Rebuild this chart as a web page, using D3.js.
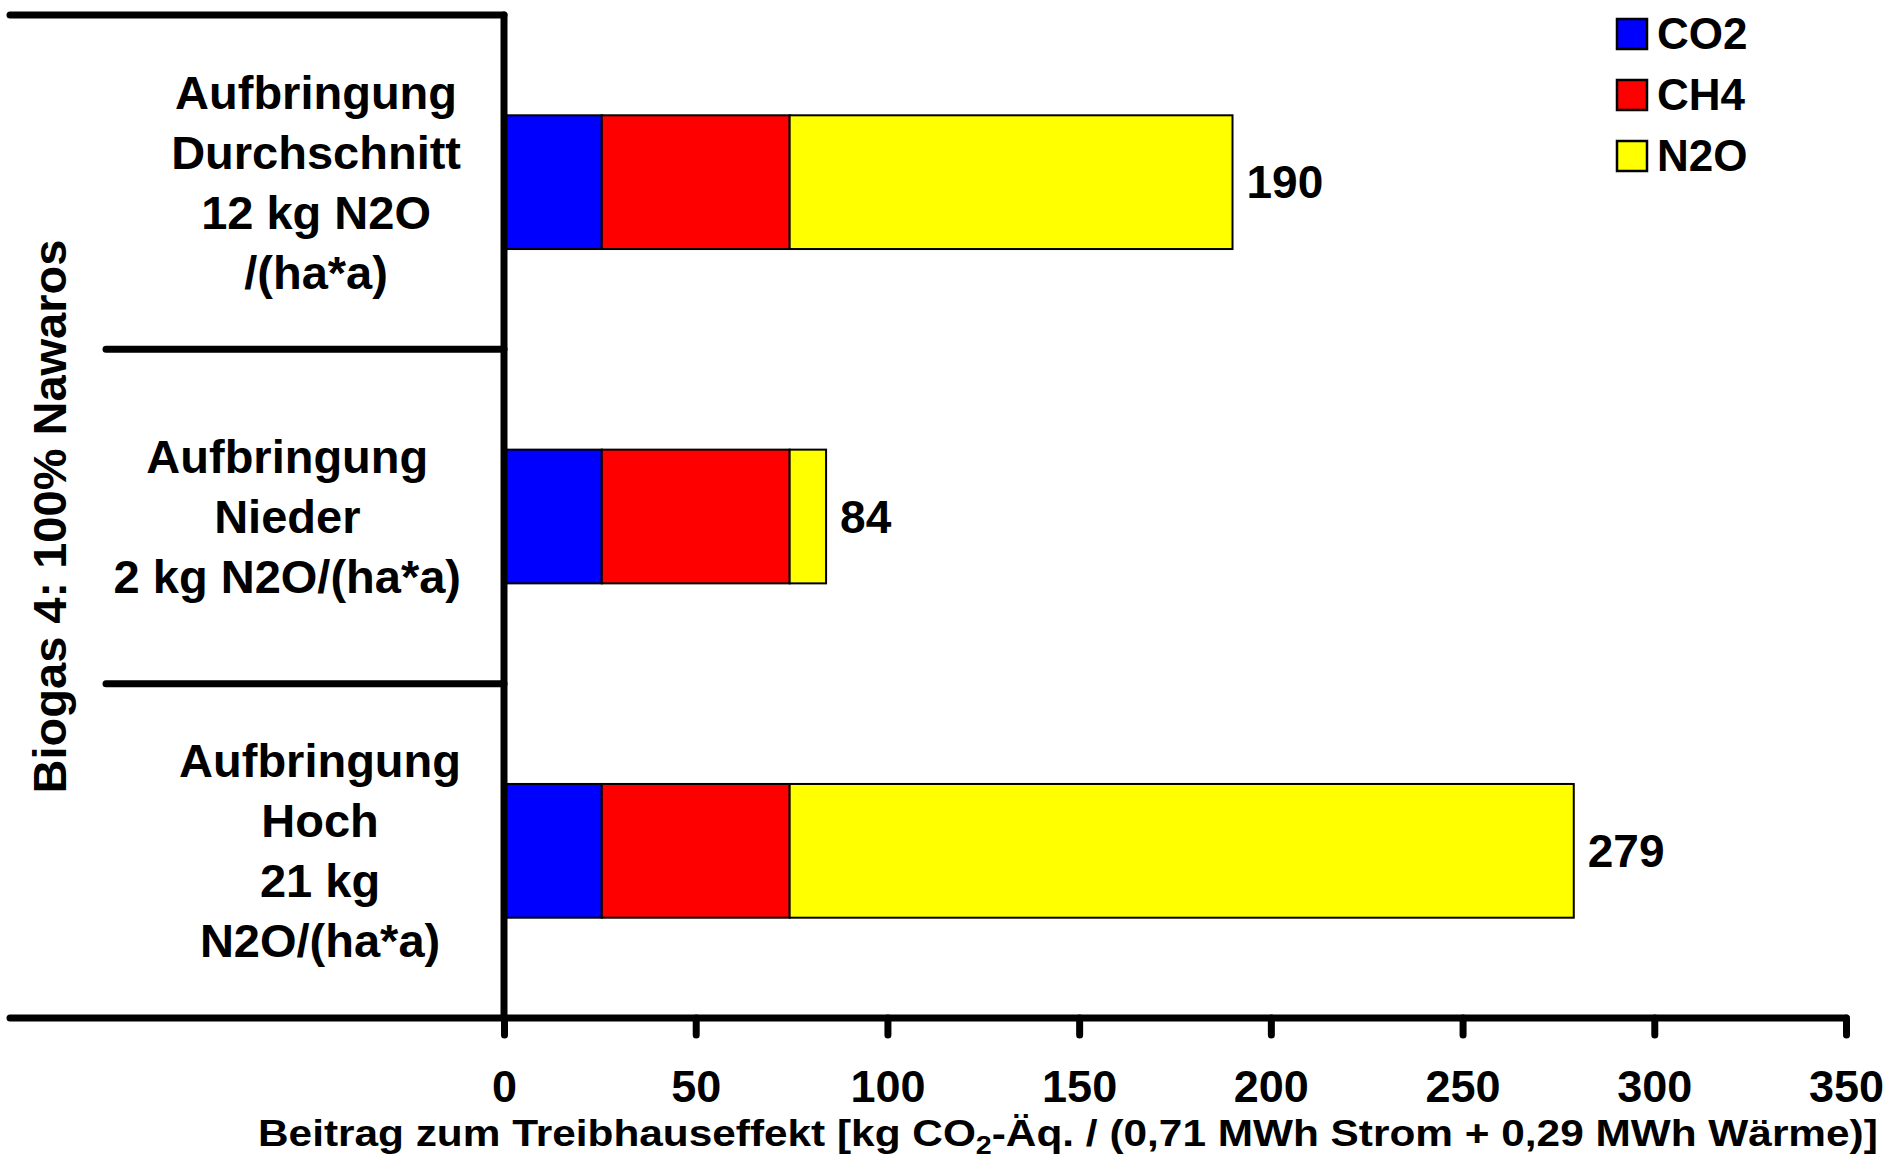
<!DOCTYPE html>
<html>
<head>
<meta charset="utf-8">
<script src="https://cdn.jsdelivr.net/npm/d3@7"></script>
<style>
  html, body { margin: 0; padding: 0; background: #fff; }
  svg { display: block; }
  text { font-family: "Liberation Sans", Arial, Helvetica, sans-serif; font-weight: bold; fill: #000; }
</style>
</head>
<body>
<svg id="chart" width="1883" height="1159"></svg>
<script>
// ---- data ----
const categoryLines = [
  ["Aufbringung", "Durchschnitt", "12 kg N2O", "/(ha*a)"],
  ["Aufbringung", "Nieder", "2 kg N2O/(ha*a)"],
  ["Aufbringung", "Hoch", "21 kg", "N2O/(ha*a)"]
];
const categories = ["Durchschnitt", "Nieder", "Hoch"];
const seriesNames = ["CO2", "CH4", "N2O"];
const seriesColors = ["#0000FF", "#FF0000", "#FFFF00"];
const co2Values = [25.5, 25.5, 25.5];
const ch4Values = [49, 49, 49];
const n2oValues = [115.5, 9.5, 204.5];
const xTicks = [0, 50, 100, 150, 200, 250, 300, 350];
const yTitle = "Biogas 4: 100% Nawaros";
const xTitleParts = ["Beitrag zum Treibhauseffekt [kg CO", "2", "-Äq. / (0,71 MWh Strom + 0,29 MWh Wärme)]"];

// ---- layout ----
(function () {
const svg = d3.select("#chart");
const pLeft = 504, pRight = 1846, pTop = 15, pBottom = 1018;
const lineW = 7;

const x = d3.scaleLinear().domain([0, 350]).range([pLeft, pRight]);
const y = d3.scaleBand().domain(categories).range([pTop, pBottom]).paddingInner(0.6).paddingOuter(0.3);

const rows = categories.map((c, i) => ({ cat: c, CO2: co2Values[i], CH4: ch4Values[i], N2O: n2oValues[i] }));
const stack = d3.stack().keys(seriesNames)(rows);

// bars
const g = svg.append("g");
stack.forEach((layer, si) => {
  g.selectAll(null).data(layer).enter().append("rect")
    .attr("x", d => x(d[0]))
    .attr("width", d => x(d[1]) - x(d[0]))
    .attr("y", d => y(d.data.cat))
    .attr("height", y.bandwidth())
    .attr("fill", seriesColors[si])
    .attr("stroke", "#000")
    .attr("stroke-width", 2);
});

// total labels
g.selectAll(null).data(rows).enter().append("text")
  .attr("x", d => x(d.CO2 + d.CH4 + d.N2O) + 14)
  .attr("y", d => y(d.cat) + y.bandwidth() / 2 + 16)
  .attr("font-size", 46)
  .text(d => Math.round(d.CO2 + d.CH4 + d.N2O));

// frame lines (category separators)
const step = y.step();
const sepYs = [pTop, pTop + step, pTop + 2 * step];
const lines = svg.append("g").attr("stroke", "#000").attr("stroke-width", lineW).attr("stroke-linecap", "round");
lines.append("line").attr("x1", 10).attr("x2", pLeft).attr("y1", pTop).attr("y2", pTop);
lines.append("line").attr("x1", 106).attr("x2", pLeft).attr("y1", sepYs[1]).attr("y2", sepYs[1]);
lines.append("line").attr("x1", 106).attr("x2", pLeft).attr("y1", sepYs[2]).attr("y2", sepYs[2]);
lines.append("line").attr("x1", 10).attr("x2", pRight).attr("y1", pBottom).attr("y2", pBottom);
lines.append("line").attr("x1", pLeft).attr("x2", pLeft).attr("y1", pTop).attr("y2", pBottom);

// x axis
const xAxis = d3.axisBottom(x).tickValues(xTicks).tickSize(17).tickSizeOuter(0).tickFormat(d3.format("d"));
const ax = svg.append("g").attr("transform", `translate(0,${pBottom})`).call(xAxis);
ax.select(".domain").remove();
ax.selectAll(".tick line").attr("stroke", "#000").attr("stroke-width", lineW).attr("stroke-linecap", "round");
ax.selectAll(".tick text")
  .attr("y", 84).attr("dy", null)
  .attr("font-size", 45)
  .style("font-family", "'Liberation Sans', Arial, sans-serif")
  .style("font-weight", "bold")
  .attr("fill", "#000");

// category labels (centered lines, block right-aligned)
const blockRight = 461;
const lineH = 60;
categoryLines.forEach((ls, i) => {
  const cy = y(categories[i]) + y.bandwidth() / 2;
  const grp = svg.append("g");
  const texts = ls.map((t, j) => grp.append("text")
    .attr("font-size", 47)
    .attr("text-anchor", "middle")
    .attr("y", cy + (j - (ls.length - 1) / 2) * lineH + 16.5)
    .text(t));
  const maxW = d3.max(texts, t => t.node().getComputedTextLength());
  texts.forEach(t => t.attr("x", blockRight - maxW / 2));
});

// y title
svg.append("text")
  .attr("transform", `translate(66,${(pTop + pBottom) / 2}) rotate(-90)`)
  .attr("text-anchor", "middle")
  .attr("font-size", 47)
  .text(yTitle);

// x title (horizontally stretched to match reference width)
const xtG = svg.append("g");
const xt = xtG.append("text")
  .attr("x", 0).attr("y", 1146)
  .attr("text-anchor", "start")
  .attr("font-size", 37);
xt.append("tspan").text(xTitleParts[0]);
xt.append("tspan").attr("font-size", 25).attr("dy", 8).text(xTitleParts[1]);
xt.append("tspan").attr("dy", -8).text(xTitleParts[2]);
const xtW = xt.node().getBBox().width;
const targetW = 1620;
xtG.attr("transform", `translate(258,0) scale(${targetW / xtW},1)`);

// legend
const legend = svg.append("g");
seriesNames.forEach((s, i) => {
  const ly = 19 + i * 61;
  legend.append("rect").attr("x", 1617).attr("y", ly).attr("width", 30).attr("height", 30)
    .attr("fill", seriesColors[i]).attr("stroke", "#000").attr("stroke-width", 2.5);
  legend.append("text").attr("x", 1657).attr("y", ly + 30).attr("font-size", 44).text(s);
});
})();
</script>
</body>
</html>
